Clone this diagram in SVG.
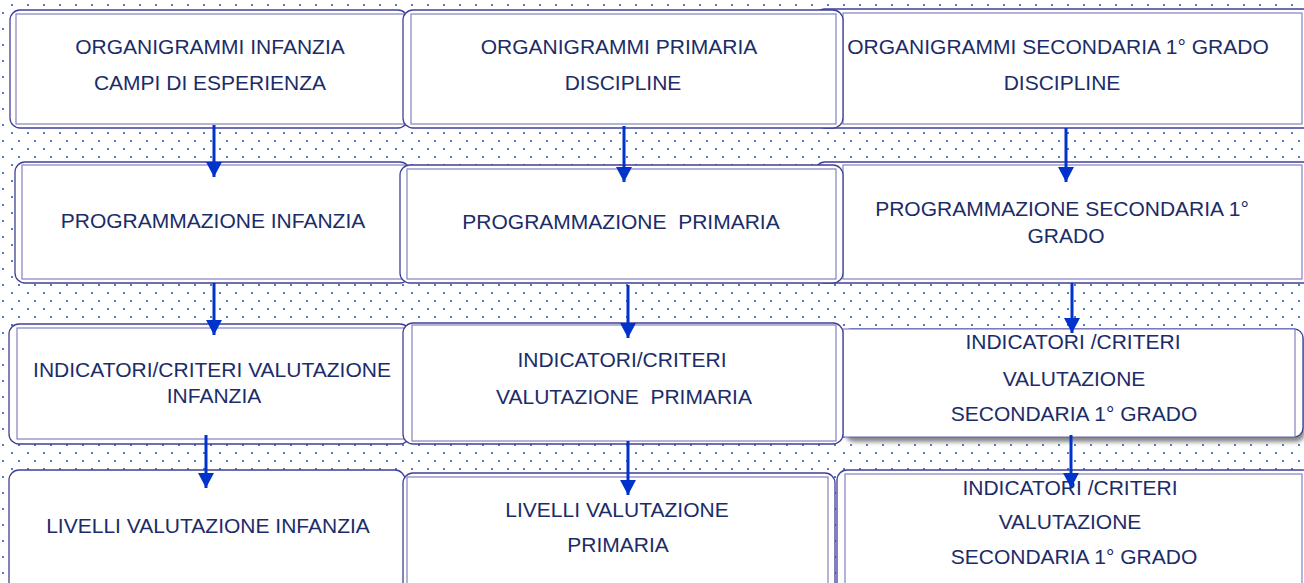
<svg xmlns="http://www.w3.org/2000/svg" width="1304" height="583" viewBox="0 0 1304 583">
<style>
.outer{fill:#ffffff;stroke:#3f3f98;stroke-width:1.3}
.inner{fill:#ffffff;stroke:#8282c2;stroke-width:1.2}
.t{font-family:"Liberation Sans",Arial,sans-serif;font-size:21px;fill:#1b2c68;text-anchor:middle}
.conn{stroke:#0033cc;stroke-width:3;fill:none;marker-end:url(#ah)}
</style>
<defs>
<pattern id="dots" width="16" height="16" patternUnits="userSpaceOnUse">
<rect x="11" y="4" width="2" height="2" fill="#4f7fc2"/>
<rect x="2" y="12" width="2" height="2" fill="#4f7fc2"/>
</pattern>
<marker id="ah" markerUnits="userSpaceOnUse" markerWidth="16" markerHeight="16" refX="15" refY="8" orient="auto">
<path d="M0,0 L15,8 L0,16 z" fill="#0033cc"/>
</marker>
<filter id="sh" x="-5%" y="-10%" width="115%" height="130%">
<feGaussianBlur stdDeviation="2"/>
</filter>
</defs>
<rect width="1304" height="583" fill="#ffffff"/>
<rect width="1304" height="583" fill="url(#dots)"/>

<!-- column 3 (drawn first, partly under column 2) -->
<g id="n-org-sec">
<rect class="outer" x="815" y="9" width="500" height="119" rx="10"/>
<rect class="inner" x="843" y="13" width="459" height="111"/>
<text class="t" x="1058" y="54">ORGANIGRAMMI SECONDARIA 1° GRADO</text>
<text class="t" x="1062" y="90">DISCIPLINE</text>
</g>
<g id="n-prog-sec">
<rect class="outer" x="815" y="162" width="500" height="121" rx="10"/>
<rect class="inner" x="843" y="165" width="459" height="114"/>
<text class="t" x="1062" y="216">PROGRAMMAZIONE SECONDARIA 1°</text>
<text class="t" x="1066" y="243">GRADO</text>
</g>
<g id="n-ind-sec">
<rect x="845" y="333" width="460" height="109" rx="9" fill="#555555" opacity="0.7" filter="url(#sh)"/>
<rect class="outer" x="842" y="329" width="461" height="108" rx="9"/>
<rect class="inner" x="843" y="329" width="452" height="108"/>
<text class="t" x="1073" y="349">INDICATORI /CRITERI</text>
<text class="t" x="1074" y="386">VALUTAZIONE</text>
<text class="t" x="1074" y="421">SECONDARIA 1° GRADO</text>
</g>
<g id="n-liv-sec">
<rect class="outer" x="837" y="470" width="475" height="130" rx="10"/>
<rect class="inner" x="845" y="474" width="457" height="120"/>
<text class="t" x="1070" y="495">INDICATORI /CRITERI</text>
<text class="t" x="1070" y="529">VALUTAZIONE</text>
<text class="t" x="1074" y="564">SECONDARIA 1° GRADO</text>
</g>

<!-- column 1 -->
<g id="n-org-inf">
<rect class="outer" x="10" y="10" width="398" height="118" rx="10"/>
<rect class="inner" x="16" y="14" width="388" height="110"/>
<text class="t" x="210" y="54">ORGANIGRAMMI INFANZIA</text>
<text class="t" x="210" y="90">CAMPI DI ESPERIENZA</text>
</g>
<g id="n-prog-inf">
<rect class="outer" x="15" y="162" width="395" height="121" rx="10"/>
<rect class="inner" x="22" y="165" width="384" height="114"/>
<text class="t" x="213" y="228">PROGRAMMAZIONE INFANZIA</text>
</g>
<g id="n-ind-inf">
<rect class="outer" x="9" y="324" width="401" height="120" rx="10"/>
<rect class="inner" x="17" y="328" width="389" height="111"/>
<text class="t" x="212" y="377">INDICATORI/CRITERI VALUTAZIONE</text>
<text class="t" x="214" y="403">INFANZIA</text>
</g>
<g id="n-liv-inf">
<rect class="outer" x="9" y="470" width="396" height="130" rx="10"/>
<text class="t" x="208" y="533">LIVELLI VALUTAZIONE INFANZIA</text>
</g>

<!-- column 2 -->
<g id="n-org-pri">
<rect class="outer" x="403" y="10" width="440" height="118" rx="10"/>
<rect class="inner" x="411" y="14" width="425" height="110"/>
<text class="t" x="619" y="54">ORGANIGRAMMI PRIMARIA</text>
<text class="t" x="623" y="90">DISCIPLINE</text>
</g>
<g id="n-prog-pri">
<rect class="outer" x="400" y="165" width="443" height="118" rx="10"/>
<rect class="inner" x="407" y="169" width="429" height="110"/>
<text class="t" x="621" y="229" xml:space="preserve">PROGRAMMAZIONE  PRIMARIA</text>
</g>
<g id="n-ind-pri">
<rect class="outer" x="403" y="323" width="440" height="121" rx="10"/>
<rect class="inner" x="412" y="325" width="424" height="116"/>
<text class="t" x="622" y="367">INDICATORI/CRITERI</text>
<text class="t" x="624" y="404" xml:space="preserve">VALUTAZIONE  PRIMARIA</text>
</g>
<g id="n-liv-pri">
<rect class="outer" x="403" y="473" width="432" height="130" rx="10"/>
<rect class="inner" x="407" y="477" width="421" height="120"/>
<text class="t" x="617" y="517">LIVELLI VALUTAZIONE</text>
<text class="t" x="618" y="552">PRIMARIA</text>
</g>

<g id="connectors">
<line class="conn" x1="214" y1="125" x2="214" y2="177"/>
<line class="conn" x1="214" y1="283" x2="214" y2="335"/>
<line class="conn" x1="206" y1="435" x2="206" y2="488"/>
<line class="conn" x1="624" y1="126" x2="624" y2="182"/>
<line class="conn" x1="628" y1="285" x2="628" y2="338"/>
<line class="conn" x1="628" y1="441" x2="628" y2="495"/>
<line class="conn" x1="1066" y1="128" x2="1066" y2="182"/>
<line class="conn" x1="1072" y1="283" x2="1072" y2="333"/>
<line class="conn" x1="1071" y1="435" x2="1071" y2="488"/>
</g>
</svg>
